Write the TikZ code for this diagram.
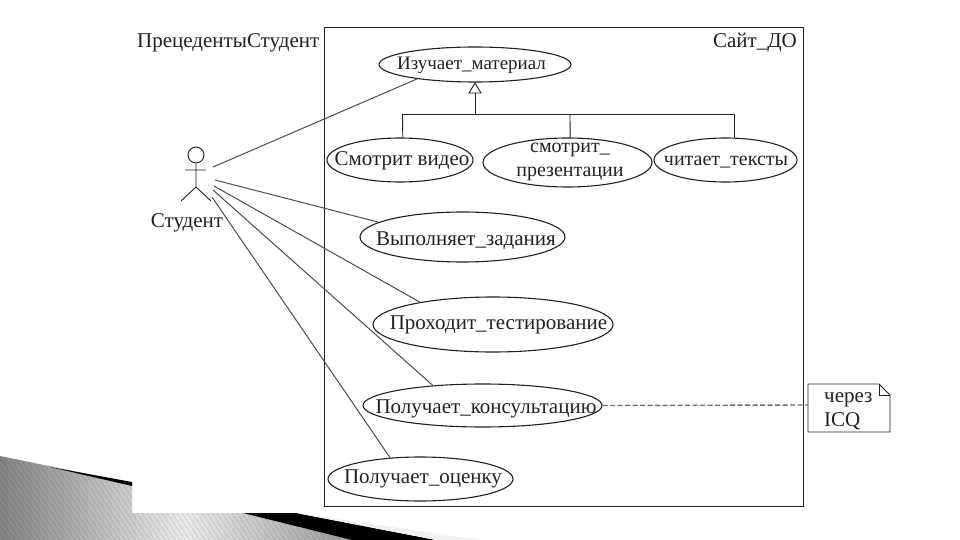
\documentclass[tikz,border=0pt]{standalone}
\usepackage{fontspec}
\setmainfont{Liberation Serif}
\usetikzlibrary{shapes.geometric,shapes.misc}
\definecolor{ink}{gray}{0.13}
\tikzset{
  x=1pt,y=-1pt,
  every node/.style={text=ink,font=\fontsize{21}{23}\selectfont,inner sep=0pt},
  label/.style={anchor=base},
  usecase/.style={draw=ink,line width=1.1pt,ellipse},
  assoc/.style={draw=ink!80,line width=1pt},
  gen/.style={draw=ink,line width=0.9pt},
  frameline/.style={draw=ink,line width=0.95pt},
  noteline/.style={draw=ink!65,dash pattern=on 5pt off 2.5pt,line width=1.4pt}
}
\begin{document}
\begin{tikzpicture}
\useasboundingbox (0,0) rectangle (960,540);
\fill[white] (0,0) rectangle (960,540);
% corner decoration
\begin{scope}
\clip (0,456) -- (132,483) -- (132,513) -- (247,513) -- (352,540) -- (0,540) -- cycle;
\foreach \i in {0,8,...,352}{
  \pgfmathsetmacro{\v}{\i<180 ? 48-40*\i/180 : 8+32*(\i-180)/172}
  \fill[black!\v] (\i,450) rectangle (\i+9,540);
}
\foreach \i in {0,5,...,480}{\draw[black,opacity=0.1,line width=0.8pt] (\i-60,450) -- (\i,540);}
\end{scope}
\fill[black] (50,467) -- (132,482) -- (132,486) -- cycle;
\fill[black] (243,513) -- (296,513) -- (436,540) -- (352,540) -- cycle;
\fill[black!6] (296,513) -- (480,540) -- (436,540) -- cycle;
% frame
\draw[frameline] (324,27) rectangle (803,506);
\node[anchor=base west] (title) at (137,47.5) {ПрецедентыСтудент};
\node[anchor=base east] (site) at (797,47.5) {Сайт\_ДО};
% use cases
\node[usecase,minimum width=192pt,minimum height=35pt] (study) at (475,64.5) {};
\node[usecase,minimum width=146pt,minimum height=44pt] (video) at (400,160) {};
\node[usecase,minimum width=169pt,minimum height=49pt] (pres) at (567.5,162.5) {};
\node[usecase,minimum width=143pt,minimum height=44pt] (read) at (725.5,160) {};
\node[usecase,minimum width=205pt,minimum height=50pt] (task) at (462.5,237) {};
\node[usecase,minimum width=240pt,minimum height=55pt] (test) at (493,324.5) {};
\node[usecase,minimum width=239pt,minimum height=43pt] (cons) at (482.5,405.5) {};
\node[usecase,minimum width=185pt,minimum height=44pt] (mark) at (420.5,479) {};
\node[label,font=\fontsize{19}{21}\selectfont] (studyT) at (471.5,70) {Изучает\_материал};
\node[label] (videoT) at (402,165) {Смотрит видео};
\node[label,font=\fontsize{20}{23}\selectfont] (presT1) at (570,153) {смотрит\_};
\node[label,font=\fontsize{20}{23}\selectfont] (presT2) at (570,177) {презентации};
\node[label,font=\fontsize{20}{23}\selectfont] (readT) at (726,165) {читает\_тексты};
\node[label] (taskT) at (466,245) {Выполняет\_задания};
\node[label] (testT) at (498.5,329) {Проходит\_тестирование};
\node[label] (consT) at (486,413) {Получает\_консультацию};
\node[label] (markT) at (423,483) {Получает\_оценку};
% actor
\node[draw=ink,circle,line width=0.9pt,minimum size=16pt] (head) at (196,155) {};
\coordinate (hip) at (196,187);
\coordinate (armL) at (185,170);
\coordinate (armR) at (206,170);
\coordinate (legL) at (181,201);
\coordinate (legR) at (211,201);
\draw[gen] (head) -- (hip) (armL) -- (armR) (legL) -- (hip) -- (legR);
\node[label] (actor) at (187,227) {Студент};
% associations
\coordinate (p1) at (213,167);
\coordinate (p2) at (215,180);
\coordinate (p3) at (214,186);
\coordinate (p4) at (213,190);
\coordinate (p5) at (212,197);
\draw[assoc] (p1) -- (study.194);
\draw[assoc] (p2) -- (task.170);
\draw[assoc] (p3) -- (test.163.5);
\draw[assoc] (p4) -- (cons.158.7);
\draw[assoc] (p5) -- (mark.145.9);
% generalisation
\coordinate (tip) at (475,83);
\coordinate (tl) at (469,93);
\coordinate (tr) at (481,93);
\coordinate (tb) at (475,93);
\coordinate (bus) at (475,114);
\coordinate (busL) at (402.5,114);
\coordinate (busM) at (570,114);
\coordinate (busR) at (734.5,114);
\draw[gen] (tip) -- (tl) -- (tr) -- cycle;
\draw[gen] (tb) -- (bus);
\draw[gen] (busL) -- (busR);
\draw[gen] (busL) -- (video.83.5);
\draw[gen] (busM) -- (pres.84.2);
\draw[gen] (busR) -- (read.68.7);
% note
\fill[white] (808,384) -- (879,384) -- (890,395) -- (890,432) -- (808,432) -- cycle;
\draw[frameline] (808,384) -- (879,384) -- (890,395) -- (890,432) -- (808,432) -- cycle;
\draw[gen] (879,384) -- (879,395) -- (890,395);
\coordinate (noteL) at (808,405);
\draw[noteline] (cons.east) -- (noteL);
\node[anchor=base west] (note1) at (824,402) {через};
\node[anchor=base west] (note2) at (824,426) {ICQ};
\end{tikzpicture}
\end{document}
